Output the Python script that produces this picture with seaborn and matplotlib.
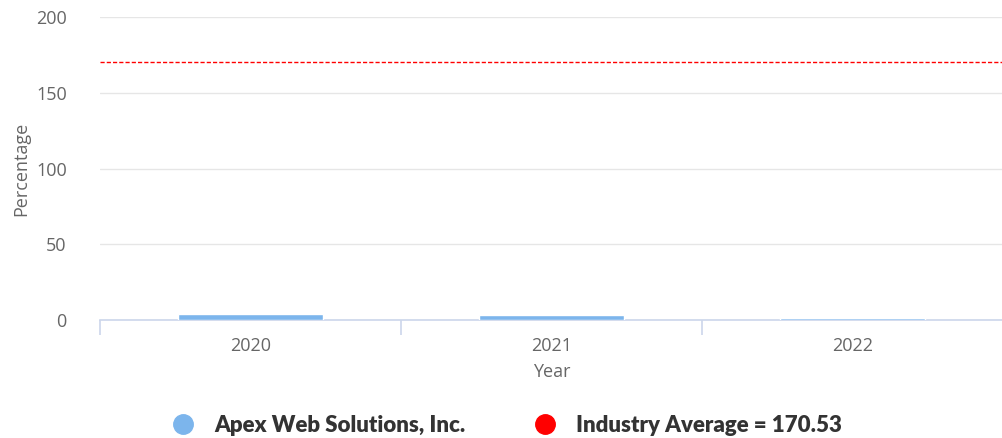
import matplotlib
matplotlib.use("Agg")
import matplotlib.pyplot as plt
from matplotlib.lines import Line2D
import seaborn as sns
import pandas as pd

years = ["2020", "2021", "2022"]
company_values = [4.0, 3.0, 1.6]
industry_average = 170.53
company_name = "Apex Web Solutions, Inc."

df = pd.DataFrame({"Year": years, "Percentage": company_values})

sns.set_style("white")
plt.rcParams["font.family"] = ["Open Sans", "DejaVu Sans"]

fig = plt.figure(figsize=(10.03, 4.38), dpi=100)
ax = fig.add_axes([100 / 1003, 1 - 320 / 438, 903 / 1003, 303 / 438])

sns.barplot(data=df, x="Year", y="Percentage", color="#7cb5ec", width=0.48,
            saturation=1, ax=ax, zorder=3)
ax.axhline(industry_average, color="red", linestyle=(0, (3, 1.5)), linewidth=1, zorder=4)

ax.set_ylim(0, 200)
ax.set_xlim(-0.5, 2.5)
ax.set_yticks([0, 50, 100, 150, 200])
ax.yaxis.grid(True, color="#e6e6e6", linewidth=1)
ax.set_axisbelow(True)

for side in ["left", "right", "top"]:
    ax.spines[side].set_visible(False)
ax.spines["bottom"].set_color("#ccd6eb")
ax.spines["bottom"].set_linewidth(1.2)
ax.spines["bottom"].set_zorder(2)

ax.tick_params(axis="y", length=0, labelsize=13, labelcolor="#666666", pad=24)
ax.tick_params(axis="x", which="major", length=0, labelsize=13, labelcolor="#666666", pad=12)
ax.set_xticks([-0.5, 0.5, 1.5, 2.5], minor=True)
ax.tick_params(axis="x", which="minor", bottom=True, length=11, color="#ccd6eb", width=1.2)

ax.set_xlabel("Year", fontsize=13, color="#666666", labelpad=6)
ax.set_ylabel("Percentage", fontsize=13, color="#666666", labelpad=4)

handles = [
    Line2D([], [], marker="o", linestyle="", markersize=14, color="#7cb5ec"),
    Line2D([], [], marker="o", linestyle="", markersize=14, color="red"),
]
labels = [company_name, f"Industry Average = {industry_average:.2f}"]
fig.legend(handles, labels, loc="center", bbox_to_anchor=(0.5, 1 - 425 / 438),
           ncol=2, frameon=False, handletextpad=0.4, columnspacing=2.6,
           prop={"family": "Lato", "weight": "heavy", "size": 16},
           labelcolor="#333333")

fig.savefig("out.png", dpi=100)
